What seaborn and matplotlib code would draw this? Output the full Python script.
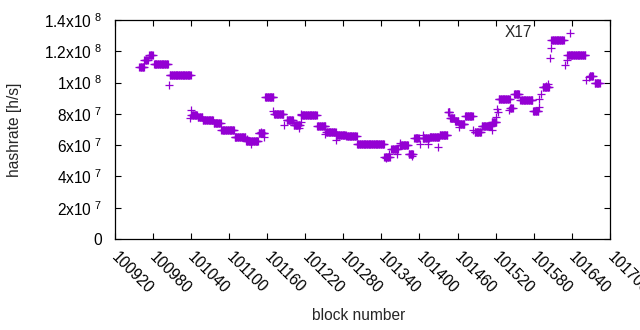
import numpy as np
import pandas as pd
import matplotlib
matplotlib.use('Agg')
import matplotlib.pyplot as plt
import matplotlib.transforms as mtrans
import seaborn as sns
from matplotlib.ticker import FuncFormatter

# --- Data ---
# runs of constant hashrate: first block, last block, hashrate [h/s]
RUN_START = [100959, 100967, 100975, 100982, 101007, 101041, 101051, 101059, 101076, 101088,
             101109, 101127, 101147, 101157, 101171, 101191, 101202, 101214, 101239, 101253,
             101269, 101285, 101302, 101345, 101356, 101369, 101383, 101392, 101405, 101416,
             101432, 101445, 101448, 101456, 101462, 101472, 101487, 101498, 101514, 101525,
             101543, 101549, 101559, 101579, 101594, 101608, 101633, 101668, 101676]
RUN_END = [100966, 100972, 100980, 101004, 101040, 101050, 101058, 101075, 101087, 101108,
           101126, 101146, 101156, 101170, 101186, 101201, 101212, 101238, 101252, 101268,
           101284, 101301, 101344, 101353, 101366, 101382, 101390, 101399, 101415, 101431,
           101444, 101447, 101455, 101461, 101471, 101484, 101497, 101513, 101521, 101542,
           101547, 101557, 101578, 101587, 101604, 101627, 101661, 101673, 101684]
RUN_RATE = [1.10e8, 1.144e8, 1.18e8, 1.12e8, 1.046e8, 7.9e7, 7.8e7, 7.62e7, 7.39e7, 6.94e7,
            6.54e7, 6.26e7, 6.77e7, 9.05e7, 7.97e7, 7.6e7, 7.27e7, 7.9e7, 7.22e7, 6.82e7,
            6.65e7, 6.58e7, 6.07e7, 5.26e7, 5.73e7, 6.0e7, 5.43e7, 6.43e7, 6.43e7, 6.5e7,
            6.63e7, 8.13e7, 7.71e7, 7.56e7, 7.35e7, 7.84e7, 6.86e7, 7.2e7, 7.45e7, 8.97e7,
            8.35e7, 9.3e7, 8.86e7, 8.18e7, 9.73e7, 1.27e8, 1.175e8, 1.04e8, 9.98e7]

# isolated blocks that stand off the runs
ODD_BLOCK = [101005, 101041, 101039, 101128, 101135, 101150, 101156, 101170, 101187, 101211,
             101214, 101213, 101252, 101268, 101347, 101352, 101364, 101370, 101389, 101405,
             101401, 101414, 101430, 101447, 101463, 101485, 101514, 101521, 101522, 101523,
             101541, 101588, 101589, 101591, 101600, 101603, 101605, 101607, 101629, 101632,
             101637, 101662, 101667]
ODD_RATE = [9.82e7, 8.22e7, 7.71e7, 6.4e7, 6.1e7, 6.86e7, 6.5e7, 8.2e7, 7.28e7, 7.07e7,
            7.97e7, 7.5e7, 6.69e7, 6.33e7, 5.2e7, 5.43e7, 5.43e7, 6.12e7, 5.3e7, 6.65e7,
            6.07e7, 6.1e7, 5.86e7, 8.13e7, 7.14e7, 6.97e7, 6.97e7, 7.8e7, 8.3e7, 8.1e7,
            8.24e7, 8.41e7, 8.93e7, 9.27e7, 9.8e7, 9.89e7, 1.155e8, 1.22e8, 1.11e8, 1.148e8,
            1.32e8, 1.016e8, 1.037e8]

blocks, rates = [], []
for start, end, rate in zip(RUN_START, RUN_END, RUN_RATE):
    b = np.arange(start, end + 1)
    blocks.extend(b)
    rates.extend([rate] * len(b))
blocks.extend(ODD_BLOCK)
rates.extend(ODD_RATE)
df = pd.DataFrame({'block': blocks, 'hashrate': rates})

# --- Plot ---
sns.set_style('ticks')
plt.rcParams['font.family'] = ['Liberation Sans', 'DejaVu Sans']
plt.rcParams['mathtext.default'] = 'regular'
plt.rcParams['font.size'] = 11.2

fig = plt.figure(figsize=(6.4, 3.3), dpi=100)
ax = fig.add_axes([0.179, 0.276, 0.774, 0.663])

sns.scatterplot(data=df, x='block', y='hashrate', marker='+', color='#9400D3',
                s=26, linewidth=0.9, ax=ax, legend=False)

ax.set_xlim(100920, 101700)
ax.set_ylim(0, 1.4e8)
ax.set_xticks(np.arange(100920, 101701, 60))
ax.set_yticks(np.arange(0, 1.41e8, 2e7))


def sci_label(v, pos):
    if abs(v) < 1:
        return '0'
    if v < 0:
        return ''
    exp = int(np.floor(np.log10(v) + 1e-9))
    mant = v / 10 ** exp
    mant_s = f'{mant:.1f}'.rstrip('0').rstrip('.')
    return f'{mant_s}x10$^{{\\ {exp}}}$'


ax.yaxis.set_major_formatter(FuncFormatter(sci_label))
ax.tick_params(direction='in', length=4, width=0.8, top=True, right=True, colors='black')
ax.tick_params(axis='y', pad=9)
ax.tick_params(axis='x', pad=4)
shift = mtrans.ScaledTranslation(5 / 100, -5 / 100, fig.dpi_scale_trans)
for lab in ax.get_xticklabels():
    lab.set_rotation(-45)
    lab.set_ha('left')
    lab.set_va('top')
    lab.set_rotation_mode('anchor')
    lab.set_transform(lab.get_transform() + shift)

for sp in ax.spines.values():
    sp.set_visible(True)
    sp.set_color('black')
    sp.set_linewidth(0.9)

ax.set_xlabel('block number')
ax.set_ylabel('hashrate [h/s]')
ax.xaxis.set_label_coords(0.493, -0.315)
ax.yaxis.set_label_coords(-0.186, 0.498)

ax.text(0.816, 0.945, 'X17', transform=ax.transAxes, ha='center', va='center')

fig.savefig('out.png', dpi=100)
